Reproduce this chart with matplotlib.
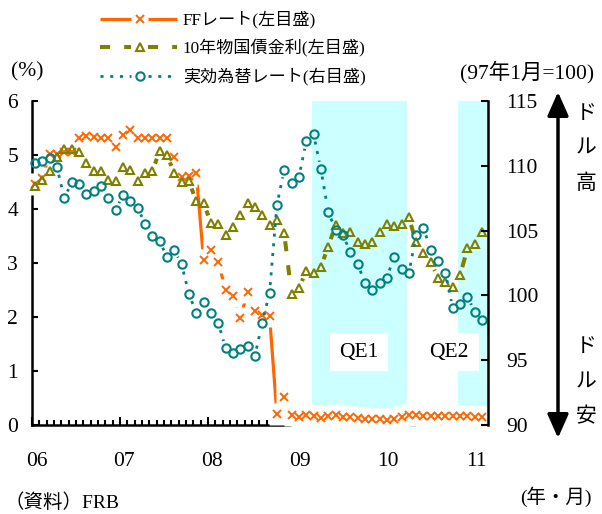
import numpy as np
import matplotlib
matplotlib.use('Agg')
import matplotlib.pyplot as plt
from matplotlib.collections import LineCollection
from matplotlib.path import Path

# ---------------- data (monthly, Jan 2006 - Feb 2011) ----------------
months = np.arange(62)
ff_rate = [4.46, 4.57, 5.02, 5.02, 5.05, 5.05, 5.31, 5.35, 5.34, 5.31,
           5.32, 5.15, 5.37, 5.46, 5.31, 5.31, 5.31, 5.31, 5.32, 4.97,
           4.60, 4.61, 4.66, 3.06, 3.24, 3.02, 2.50, 2.38, 1.98, 2.46,
           2.11, 2.03, 2.02, 0.20, 0.52, 0.18, 0.14, 0.18, 0.16, 0.13,
           0.16, 0.19, 0.14, 0.14, 0.13, 0.11, 0.11, 0.11, 0.10, 0.12,
           0.14, 0.18, 0.18, 0.16, 0.16, 0.17, 0.17, 0.17, 0.17, 0.16,
           0.15, 0.14]
t10_rate = [4.42, 4.54, 4.70, 4.97, 5.12, 5.12, 5.06, 4.85, 4.70, 4.70,
            4.54, 4.52, 4.78, 4.72, 4.52, 4.66, 4.70, 5.07, 5.00, 4.66,
            4.50, 4.52, 4.14, 4.11, 3.74, 3.72, 3.52, 3.67, 3.89, 4.11,
            4.03, 3.89, 3.70, 3.80, 3.55, 2.42, 2.53, 2.85, 2.81, 2.93,
            3.30, 3.70, 3.56, 3.58, 3.39, 3.36, 3.39, 3.58, 3.72, 3.69,
            3.72, 3.85, 3.38, 3.19, 3.01, 2.72, 2.65, 2.56, 2.78, 3.27,
            3.35, 3.58]
fx_index = [110.19, 110.37, 110.63, 109.87, 107.49, 108.73, 108.57, 107.80, 108.06, 108.47,
            107.49, 106.60, 107.75, 107.28, 106.77, 105.53, 104.55, 104.20, 102.95, 103.50,
            102.40, 100.10, 98.65, 99.50, 98.67, 97.88, 95.92, 95.53, 95.85, 96.10,
            95.33, 97.90, 100.22, 106.98, 109.68, 108.70, 109.13, 111.88, 112.44, 109.74,
            106.46, 105.05, 104.66, 103.37, 102.44, 100.99, 100.44, 100.95, 101.38, 102.97,
            102.06, 101.72, 104.66, 105.18, 103.50, 102.62, 101.75, 99.00, 99.35, 99.90,
            98.74, 98.10]
year_labels = ['06', '07', '08', '09', '10', '11']
left_ticks = [0, 1, 2, 3, 4, 5, 6]
right_ticks = [90, 95, 100, 105, 110, 115]
qe_names = ['QE1', 'QE2']
qe_start = [37.8, 57.7]
qe_end = [50.8, 61.8]
qe_label_x = [44.2, 56.5]
qe_label_y = 1.35
legend_labels = ['FFレート(左目盛)', '10年物国債金利(左目盛)', '実効為替レート(右目盛)']

SERIF = ['Liberation Serif', 'Noto Sans CJK JP']
JP = ['Noto Sans CJK JP', 'Liberation Serif']
C_FF, C_T10, C_FX, C_QE = '#FF6600', '#808000', '#008080', '#CCFFFF'

W, H = 602, 514
fig = plt.figure(figsize=(W / 100, H / 100), dpi=100)
ax = fig.add_axes([32 / W, 1 - 425 / H, 456 / W, 324 / H])
ax.set_xlim(-0.41, 61.8)
ax.set_ylim(0, 6)
ax2 = ax.twinx()
ax2.set_ylim(90, 115)

# spines
for s in ['top', 'right']:
    ax.spines[s].set_visible(False)
for s in ['top', 'left', 'bottom']:
    ax2.spines[s].set_visible(False)
for s in ['left', 'bottom']:
    ax.spines[s].set_linewidth(1.8)
ax2.spines['right'].set_linewidth(1.8)
ax2.spines['right'].set_zorder(6)

# ticks
ax.set_yticks(left_ticks)
ax.set_yticklabels([str(v) for v in left_ticks], family=SERIF, fontsize=15.5)
ax.tick_params(axis='y', direction='in', length=4.5, width=1.5, pad=10)
ax2.set_yticks(right_ticks)
ax2.set_yticklabels([str(v) for v in right_ticks], family=SERIF, fontsize=15.5)
ax2.tick_params(axis='y', direction='in', length=5, width=1.5, pad=13)
ax.set_xticks([12 * k - 0.4 for k in range(len(year_labels))])
ax.set_xticks(months - 0.4, minor=True)
ax.tick_params(axis='x', which='major', direction='in', length=6, width=1.5, labelbottom=False)
ax.tick_params(axis='x', which='minor', direction='in', length=3.5, width=1.5)
for k, lab in enumerate(year_labels):
    ax.text(12 * k + 0.2, -0.114, lab, transform=ax.get_xaxis_transform(),
            ha='center', va='center', fontsize=15.5, family=SERIF)

# QE shading
for s0, s1, name, lx in zip(qe_start, qe_end, qe_names, qe_label_x):
    ax.axvspan(s0, s1, color=C_QE, lw=0, zorder=0.5)
    ax.text(lx, qe_label_y, name, ha='center', va='center', fontsize=15.5, family=SERIF,
            zorder=1, bbox=dict(boxstyle='square,pad=0.45', fc='white', ec='none'))


def gapped(axis, xs, ys, gap):
    pts = axis.transData.transform(np.column_stack([xs, ys]))
    inv = axis.transData.inverted()
    segs = []
    for p0, p1 in zip(pts[:-1], pts[1:]):
        d = p1 - p0
        L = np.hypot(d[0], d[1])
        if L > 2 * gap + 1:
            u = d / L
            segs.append(inv.transform(np.vstack([p0 + u * gap, p1 - u * gap])))
    return segs


halo = Path([(-0.34, -0.5), (0.34, -0.5), (0.34, 0.5), (-0.34, 0.5), (-0.34, -0.5)],
            [Path.MOVETO, Path.LINETO, Path.LINETO, Path.LINETO, Path.CLOSEPOLY])

# FF rate
ax.add_collection(LineCollection(gapped(ax, months, ff_rate, 10), colors=C_FF,
                                 linewidths=2.3, capstyle='butt', zorder=2))
ax.plot(months, ff_rate, ls='none', marker=halo, ms=16, mfc='white', mec='none',
        zorder=2.6, clip_on=False)
ax.plot(months, ff_rate, ls='none', marker='x', ms=6.2, mew=1.4, color=C_FF,
        zorder=2.7, clip_on=False)

# 10y
ax.add_collection(LineCollection(gapped(ax, months, t10_rate, 8), colors=C_T10,
                                 linewidths=2.9, linestyles=[(0, (2.5, 3.5))],
                                 capstyle='butt', zorder=2.8))
ax.plot(months, t10_rate, ls='none', marker='^', ms=6.3, mew=1.5, mfc='none',
        mec=C_T10, zorder=2.9, clip_on=False)

# effective exchange rate
ax2.add_collection(LineCollection(gapped(ax2, months, fx_index, 7.5), colors=C_FX,
                                  linewidths=2.0, linestyles=[(0, (1.1, 2.4))],
                                  capstyle='butt', zorder=2))
ax2.plot(months, fx_index, ls='none', marker='o', ms=6.0, mew=1.5, mfc='none',
         mec=C_FX, zorder=2.2, clip_on=False)

# ---------------- overlay: legend, labels, arrow ----------------
lax = fig.add_axes([0, 0, 1, 1])
lax.set_xlim(0, W)
lax.set_ylim(H, 0)
lax.axis('off')
lax.patch.set_visible(False)

rows = [19, 47, 76]
styles = [dict(color=C_FF, lw=2.3, ls='-'),
          dict(color=C_T10, lw=2.9, ls=(0, (2.5, 3.5))),
          dict(color=C_FX, lw=2.0, ls=(0, (1.1, 2.4)))]
mk = [dict(marker='x', ms=6.2, mew=1.4, color=C_FF),
      dict(marker='^', ms=6.3, mew=1.5, mfc='none', mec=C_T10),
      dict(marker='o', ms=6.0, mew=1.5, mfc='none', mec=C_FX)]
for y, st, m, lab in zip(rows, styles, mk, legend_labels):
    lax.plot([100, 131], [y, y], solid_capstyle='butt', dash_capstyle='butt', **st)
    lax.plot([148, 177], [y, y], solid_capstyle='butt', dash_capstyle='butt', **st)
    lax.plot([139.5], [y], ls='none', **m)
    lax.text(183, y, lab, ha='left', va='center', fontsize=12.3, family=SERIF)

lax.text(27, 72, '(%)', ha='center', va='center', fontsize=15.5, family=SERIF)
lax.text(527, 72, '(97年1月=100)', ha='center', va='center', fontsize=15.5, family=SERIF)
lax.text(4, 503, '（資料）FRB', ha='left', va='center', fontsize=14, family=SERIF)
lax.text(520, 497, '(年・月)', ha='left', va='center', fontsize=14, family=SERIF)
for ch, y in zip('ドル高', [113, 148, 183]):
    lax.text(586, y, ch, ha='center', va='center', fontsize=15, family=JP)
for ch, y in zip('ドル安', [346, 381, 416]):
    lax.text(586, y, ch, ha='center', va='center', fontsize=15, family=JP)
lax.annotate('', xy=(558, 92), xytext=(558, 438),
             arrowprops=dict(arrowstyle='<|-|>,head_length=0.45,head_width=0.2',
                             lw=2.5, color='black', mutation_scale=32,
                             shrinkA=0, shrinkB=0))

fig.savefig('out.png', dpi=100)
